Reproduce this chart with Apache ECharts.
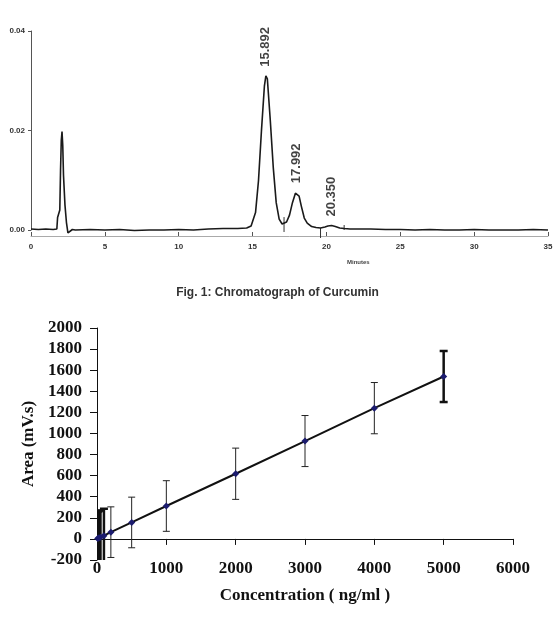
<!DOCTYPE html>
<html>
<head>
<meta charset="utf-8">
<script src="https://cdn.jsdelivr.net/npm/echarts@6/dist/echarts.min.js"></script>
<style>
  html, body { margin: 0; padding: 0; background: #fff; }
  #main { width: 555px; height: 619px; }
</style>
</head>
<body>
<div id="main"></div>
<script>
// chromatogram trace: time (min) and absorbance
var traceTime = [0, 0.5, 1.0, 1.5, 1.75, 1.8, 1.85, 1.9, 1.95, 2.0, 2.05, 2.1, 2.15, 2.2, 2.3, 2.4, 2.5, 2.6, 2.8,
  3, 4, 5, 6, 7, 8, 9, 10, 11, 12, 13, 14, 14.6, 14.9, 15.0, 15.2, 15.4, 15.6, 15.8, 15.9, 16.0, 16.2, 16.4, 16.6,
  16.8, 17.0, 17.13, 17.3, 17.5, 17.7, 17.9, 18.0, 18.15, 18.3, 18.5, 18.7, 19.0, 19.3, 19.6, 19.9, 20.1, 20.35,
  20.6, 20.9, 21.2, 21.6, 22, 23, 24, 25, 26, 27, 28, 29, 30, 31, 32, 33, 34, 35];
var traceAbs = [0.0002, 0.0001, 0.0002, 0.0001, 0.0002, 0.0025, 0.003, 0.0028, 0.004, 0.012, 0.018, 0.0198, 0.017,
  0.011, 0.005, 0.0015, -0.0006, -0.0002, 0.0001,
  0.0, 0.0001, 0.0, 0.0001, -0.0001, 0.0, 0.0, 0.0001, 0.0, 0.0002, 0.0003, 0.0003, 0.0004, 0.0008, 0.0011, 0.0035,
  0.0099, 0.0199, 0.0289, 0.031, 0.0304, 0.022, 0.0126, 0.0055, 0.0022, 0.0012, 0.001, 0.0016, 0.003, 0.0055,
  0.0074, 0.0076, 0.0068, 0.0048, 0.0024, 0.0014, 0.0007, 0.0005, 0.0004, 0.0006, 0.0008, 0.0009, 0.0007, 0.0004,
  0.0003, 0.0002, 0.0002, 0.0002, 0.0001, 0.0001, 0.0, 0.0001, 0.0, 0.0, 0.0001, 0.0, 0.0, 0.0, 0.0001, 0.0];
var peakTimes = [15.892, 17.992, 20.350];
var peakHeights = [0.031, 0.0076, 0.0009];
var peakLabels = ['15.892', '17.992', '20.350'];
// integration markers
var markTimes = [17.13, 19.6, 21.2];
var markLow = [-0.0004, -0.0016, 0.0];
var markHigh = [0.0026, 0.0004, 0.001];

// calibration curve
var conc = [10, 25, 50, 100, 200, 500, 1000, 2000, 3000, 4000, 5000];
var area = [3, 8, 15, 31, 64, 156, 312, 618, 928, 1240, 1540];
var areaErr = [255, 255, 255, 255, 240, 240, 240, 243, 242, 243, 242];

var chart = echarts.init(document.getElementById('main'));

var sans = 'Liberation Sans';
var serif = 'Liberation Serif';

var tracePts = traceTime.map(function (t, i) { return [t, traceAbs[i]]; });
var peakPts = peakTimes.map(function (t, i) { return { value: [t, peakHeights[i]], name: peakLabels[i] }; });
var markPts = markTimes.map(function (t, i) { return [t, markLow[i], markHigh[i]]; });
var calPts = conc.map(function (c, i) { return [c, area[i]]; });
var errPts = conc.map(function (c, i) { return [c, area[i] - areaErr[i], area[i] + areaErr[i]]; });

function plain(v) { return String(v); }

function vSeg(api, x, y0, y1, w, cap, color) {
  var p0 = api.coord([x, y0]);
  var p1 = api.coord([x, y1]);
  var style = { stroke: color, lineWidth: w };
  var kids = [{ type: 'line', shape: { x1: p0[0], y1: p0[1], x2: p1[0], y2: p1[1] }, style: style }];
  if (cap) {
    kids.push({ type: 'line', shape: { x1: p0[0] - cap, y1: p0[1], x2: p0[0] + cap, y2: p0[1] }, style: style });
    kids.push({ type: 'line', shape: { x1: p1[0] - cap, y1: p1[1], x2: p1[0] + cap, y2: p1[1] }, style: style });
  }
  return { type: 'group', children: kids };
}

var option = {
  animation: false,
  backgroundColor: '#fff',
  title: [{
    text: 'Fig. 1: Chromatograph of Curcumin',
    left: 'center',
    top: 282,
    textStyle: { fontFamily: sans, fontSize: 12, fontWeight: 'bold', color: '#333' }
  }],
  graphic: [{
    type: 'text',
    left: 347,
    top: 259,
    style: { text: 'Minutes', fontFamily: sans, fontSize: 6, fontWeight: 'bold', fill: '#444' }
  }],
  grid: [
    { left: 31, right: 7, top: 31, bottom: 389, outerBoundsMode: 'none' },
    { left: 97, right: 42, top: 328, bottom: 59, outerBoundsMode: 'none' }
  ],
  xAxis: [{
    gridIndex: 0,
    type: 'value',
    min: 0, max: 35, interval: 5,
    offset: 6,
    axisLine: { onZero: false, lineStyle: { color: '#aaa', width: 1 } },
    axisTick: { inside: true, length: 4, lineStyle: { color: '#555' } },
    axisLabel: { margin: 7, fontFamily: sans, fontSize: 8, fontWeight: 'bold', color: '#333' },
    splitLine: { show: false }
  }, {
    gridIndex: 1,
    type: 'value',
    min: 0, max: 6000, interval: 1000,
    name: 'Concentration ( ng/ml )',
    nameLocation: 'middle',
    nameGap: 27,
    nameTextStyle: { fontFamily: serif, fontSize: 17, fontWeight: 'bold', color: '#111' },
    axisLine: { onZero: true, lineStyle: { color: '#111', width: 1 } },
    axisTick: { length: 6, lineStyle: { color: '#111' } },
    axisLabel: { margin: 0, formatter: plain, fontFamily: serif, fontSize: 17, fontWeight: 'bold', color: '#111' },
    splitLine: { show: false }
  }],
  yAxis: [{
    gridIndex: 0,
    type: 'value',
    min: 0, max: 0.04, interval: 0.02,
    axisLine: { show: true, lineStyle: { color: '#555', width: 1 } },
    axisTick: { show: true, length: 3, lineStyle: { color: '#555' } },
    axisLabel: {
      margin: 6, fontFamily: sans, fontSize: 8, fontWeight: 'bold', color: '#333',
      formatter: function (v) { return v.toFixed(2); }
    },
    splitLine: { show: false }
  }, {
    gridIndex: 1,
    type: 'value',
    min: -200, max: 2000, interval: 200,
    name: 'Area (mV.s)',
    nameLocation: 'middle',
    nameGap: 54,
    nameTextStyle: { fontFamily: serif, fontSize: 17, fontWeight: 'bold', color: '#111' },
    axisLine: { show: true, lineStyle: { color: '#111', width: 1 } },
    axisTick: { show: true, length: 7, lineStyle: { color: '#111' } },
    axisLabel: { margin: 15, formatter: plain, fontFamily: serif, fontSize: 17, fontWeight: 'bold', color: '#111' },
    splitLine: { show: false }
  }],
  series: [{
    type: 'line',
    xAxisIndex: 0, yAxisIndex: 0,
    data: tracePts,
    showSymbol: false,
    clip: false,
    lineStyle: { color: '#1a1a1a', width: 1.6 }
  }, {
    type: 'scatter',
    xAxisIndex: 0, yAxisIndex: 0,
    data: peakPts,
    symbolSize: 0,
    label: {
      show: true,
      position: 'top',
      distance: 9,
      rotate: 90,
      align: 'left',
      verticalAlign: 'middle',
      formatter: '{b}',
      fontFamily: sans, fontSize: 13, fontWeight: 'bold', color: '#111'
    }
  }, {
    type: 'custom',
    xAxisIndex: 0, yAxisIndex: 0,
    data: markPts,
    clip: false,
    renderItem: function (params, api) {
      return vSeg(api, api.value(0), api.value(1), api.value(2), 1, 0, '#333');
    }
  }, {
    type: 'custom',
    xAxisIndex: 1, yAxisIndex: 1,
    data: errPts,
    clip: true,
    z: 3,
    renderItem: function (params, api) {
      var c = api.value(0);
      var thick = c <= 100 || c === 5000;
      return vSeg(api, c, api.value(1), api.value(2), thick ? 2.5 : 1, thick ? 4 : 3.5, thick ? '#111' : '#222');
    }
  }, {
    type: 'line',
    xAxisIndex: 1, yAxisIndex: 1,
    data: calPts,
    z: 4,
    symbol: 'diamond',
    symbolSize: 7,
    itemStyle: { color: '#1b1b6e' },
    lineStyle: { color: '#111', width: 2 }
  }]
};

chart.setOption(option);
</script>
</body>
</html>
